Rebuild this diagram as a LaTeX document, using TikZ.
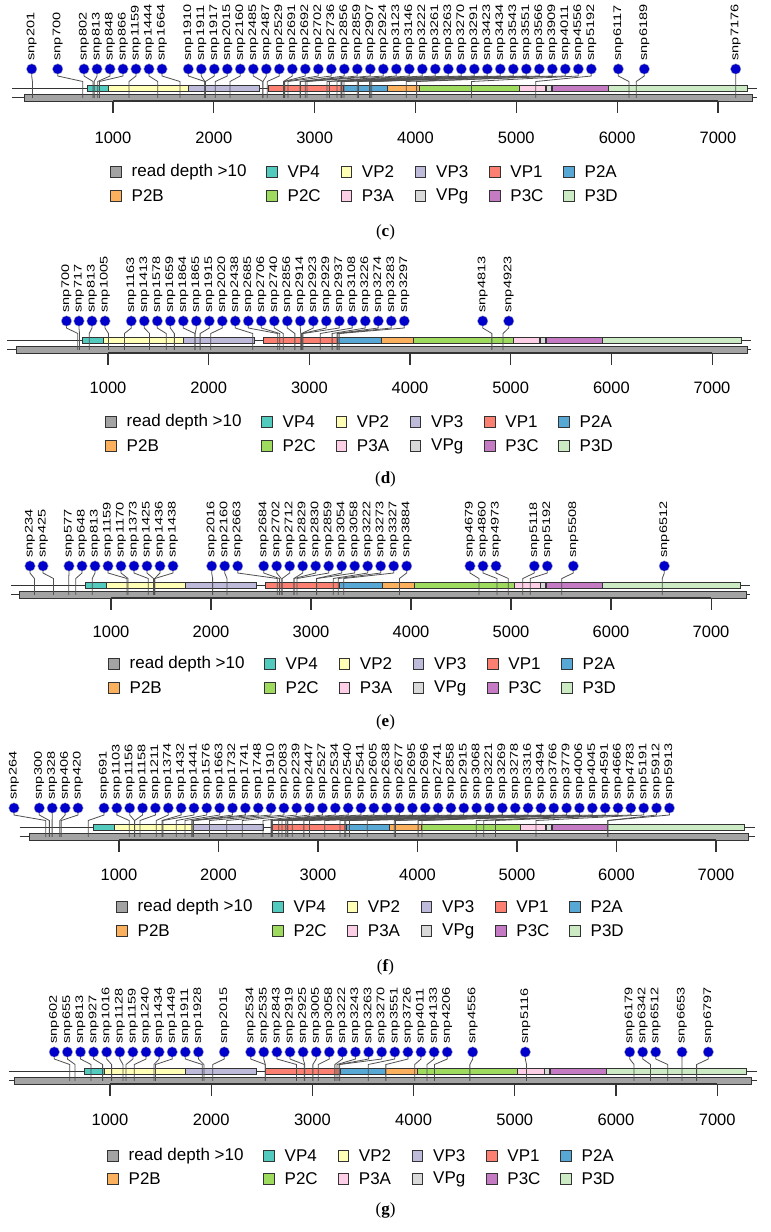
\documentclass[tikz,border=0pt]{standalone}
\usepackage{fontspec}
\usepackage{graphicx}
\setmainfont{Liberation Sans}
\newfontfamily\capfont{Liberation Serif}
\usetikzlibrary{calc}
\definecolor{cRD}{HTML}{A3A3A3}
\definecolor{cVP4}{HTML}{52CBBE}
\definecolor{cVP2}{HTML}{FFFFB5}
\definecolor{cVP3}{HTML}{BEBADA}
\definecolor{cVP1}{HTML}{FB8072}
\definecolor{cP2A}{HTML}{58A8D6}
\definecolor{cP2B}{HTML}{FBB05E}
\definecolor{cP2C}{HTML}{9DDA5D}
\definecolor{cP3A}{HTML}{FCCFE6}
\definecolor{cVPg}{HTML}{D9D9D9}
\definecolor{cP3C}{HTML}{C47BC4}
\definecolor{cP3D}{HTML}{CCEBC5}
\definecolor{dotblue}{HTML}{0000CC}
\definecolor{stemgray}{HTML}{505050}
\definecolor{boxline}{HTML}{333333}
\tikzset{
  dot/.style={circle, fill=dotblue, draw=gray!60, line width=0.4pt, inner sep=0pt, minimum size=10.5pt},
  stem/.style={draw=stemgray, line width=0.8pt},
  snplab/.style={rotate=90, anchor=west, inner sep=0pt, font=\fontsize{11}{13}\selectfont},
  gene/.style={draw=boxline, line width=0.9pt},
  trackline/.style={draw=boxline, line width=0.9pt},
  axtick/.style={draw=boxline, line width=1.1pt},
  ticklab/.style={inner sep=0pt, font=\fontsize{16.5}{19}\selectfont},
  legbox/.style={draw=boxline, line width=0.9pt, minimum width=10.5pt, minimum height=11pt, inner sep=0pt},
  legtxt/.style={anchor=west, inner sep=0pt, font=\fontsize{17}{20}\selectfont},
  captxt/.style={inner sep=0pt, font=\capfont\fontsize{17}{20}\selectfont}
}
\newcommand\SnpText[1]{\scalebox{1.32}[1]{#1}}
\newcommand\lolgroup[3]{%
  \foreach \lab [count=\k from 0] in {#3} {%
    \pgfmathsetmacro\cx{#1+#2*\k}%
    \pgfmathsetmacro\px{\PA+\PB*\lab}%
    \node[dot] (\PID-\lab) at (\cx,\CY) {};
    \coordinate (\PID-\lab-b1) at (\cx,\CY+7);
    \coordinate (\PID-\lab-b2) at (\px,\CY+12.5);
    \coordinate (\PID-\lab-end) at (\px,\GY);
    \draw[stem] (\PID-\lab.south) -- (\PID-\lab-b1) -- (\PID-\lab-b2) -- (\PID-\lab-end);
    \node[snplab] (\PID-\lab-t) at ([yshift=3pt]\PID-\lab.north) {\SnpText{snp\lab}};
  }}
\newcommand\drawtrack{%
  \pgfmathsetmacro\TY{\CY+19.5}%
  \pgfmathsetmacro\GY{\CY+28.8}%
  \draw[trackline] (\PA,\TY) -- (\PA+\PB*7390,\TY);
  \draw[trackline] (\PA,\GY) -- (\PA+\PB*7390,\GY);
  \draw[gene, fill=cRD] (\PA+\PB*\GS,\GY-3.2) rectangle (\PA+\PB*\GE,\GY+3.2);
  \foreach \s/\e/\col in {745/950/cVP4, 950/1745/cVP2, 1745/2450/cVP3, 2540/3281/cVP1, 3281/3718/cP2A, 3718/4036/cP2B, 4036/5030/cP2C, 5030/5290/cP3A, 5297/5347/cVPg, 5355/5910/cP3C, 5910/7290/cP3D}
    {\draw[gene, fill=\col] (\PA+\PB*\s,\TY-3) rectangle (\PA+\PB*\e,\TY+3);}
  \draw[axtick] (\PA+\PB*1000,\GY+3.2) -- (\PA+\PB*7000,\GY+3.2);
  \foreach \t in {1000,2000,...,7000} {
    \draw[axtick] (\PA+\PB*\t,\GY+3.2) -- (\PA+\PB*\t,\GY+15.5);
    \node[ticklab] (\PID-tl\t) at (\PA+\PB*\t,\TL) {\t};
  }}
\newcommand\drawlegend{%
  \pgfmathsetmacro\LX{\PA+\PB*1000+3}%
  \foreach \dx/\r/\col/\txt in {0/\LA/cRD/read depth >10, 156/\LA/cVP4/VP4, 230.25/\LA/cVP2/VP2, 304.5/\LA/cVP3/VP3, 378.75/\LA/cVP1/VP1, 453/\LA/cP2A/P2A, 0/\LB/cP2B/P2B, 156/\LB/cP2C/P2C, 230.25/\LB/cP3A/P3A, 304.5/\LB/cVPg/VPg, 378.75/\LB/cP3C/P3C, 453/\LB/cP3D/P3D} {
    \node[legbox, fill=\col] (\PID-lg-\col) at (\LX+\dx,\r) {};
    \node[legtxt] (\PID-lt-\col) at (\LX+\dx+15.5,\r) {\txt};
  }}
\begin{document}
\begin{tikzpicture}[x=1pt,y=-1pt]
\fill[white] (0,0) rectangle (771,1232);
\useasboundingbox (0,0) rectangle (771,1232);
% ---------------- panel (c)
\def\PID{c}\def\PA{12.17}\def\PB{0.10083}\def\CY{69}
\def\GS{117}\def\GE{7337}\def\TL{138}\def\LA{172}\def\LB{196}\def\CP{232}
\drawtrack
\lolgroup{31.7}{13}{201}
\lolgroup{57.7}{13}{700}
\lolgroup{84}{13}{802,813,848,866,1159,1444,1664}
\lolgroup{188.3}{13}{1910,1911,1917,2015,2160,2485,2487,2529,2691,2692,2702,2736,2856,2859,2907,2924,3123,3146,3222,3261,3263,3270,3291,3423,3434,3543,3551,3566,3909,4011,4556,5192}
\lolgroup{618.3}{13}{6117}
\lolgroup{644.3}{13}{6189}
\lolgroup{735.7}{13}{7176}
\drawlegend
\node[captxt] (c-cap) at (385.5,\CP) {(\textbf{c})};
% ---------------- panel (d)
\def\PID{d}\def\PA{7.33}\def\PB{0.10067}\def\CY{321}
\def\GS{86}\def\GE{7347}\def\TL{388}\def\LA{422}\def\LB{446}\def\CP{479}
\drawtrack
\lolgroup{66.5}{13}{700}
\lolgroup{79}{13}{717,813,1005}
\lolgroup{131.3}{13}{1163,1413,1578,1659,1864,1865,1915,2020,2438,2685,2706,2740,2856,2914,2923,2929,2937,3108,3226,3274,3283,3297}
\lolgroup{482.7}{26}{4813,4923}
\drawlegend
\node[captxt] (d-cap) at (385.5,\CP) {(\textbf{d})};
% ---------------- panel (e)
\def\PID{e}\def\PA{11}\def\PB{0.1}\def\CY{566}
\def\GS{80}\def\GE{7350}\def\TL{632}\def\LA{664}\def\LB{688}\def\CP{722}
\drawtrack
\lolgroup{30}{13}{234,425}
\lolgroup{69}{13}{577,648,813,1159,1170,1373,1425,1436,1438}
\lolgroup{211.7}{13}{2016,2160,2663}
\lolgroup{263.7}{13}{2684,2702,2712,2829,2830,2859,3054,3058,3222,3273,3327,3884}
\lolgroup{470}{13}{4679,4860,4973}
\lolgroup{534.3}{13}{5118,5192}
\lolgroup{573.3}{13}{5508}
\lolgroup{664.3}{13}{6512}
\drawlegend
\node[captxt] (e-cap) at (385.5,\CP) {(\textbf{e})};
% ---------------- panel (f)
\def\PID{f}\def\PA{19.5}\def\PB{0.0995}\def\CY{808}
\def\GS{95}\def\GE{7322}\def\TL{875}\def\LA{907}\def\LB{931}\def\CP{967}
\drawtrack
\lolgroup{14}{13}{264}
\lolgroup{39.3}{12.9}{300,328,406,420}
\lolgroup{104}{12.85}{691,1103,1156,1158,1211,1374,1432,1441,1576,1663,1732,1741,1748,1910,2083,2239,2447,2527,2534,2540,2541,2605,2638,2677,2695,2696,2741,2858,2915,3068,3221,3269,3278,3316,3494,3766,3779,4006,4045,4591,4666,4783,5191,5912,5913}
\drawlegend
\node[captxt] (f-cap) at (385.5,\CP) {(\textbf{f})};
% ---------------- panel (g)
\def\PID{g}\def\PA{8.8}\def\PB{0.1012}\def\CY{1052}
\def\GS{51}\def\GE{7334}\def\TL{1120}\def\LA{1156}\def\LB{1179}\def\CP{1210}
\drawtrack
\lolgroup{54.3}{13.1}{602,655,813,927,1016,1128,1159,1240,1434,1449,1911,1928}
\lolgroup{224.3}{13}{2015}
\lolgroup{250.7}{13.1}{2534,2535,2843,2919,2925,3005,3058,3222,3243,3263,3270,3551,3726,4011,4133,4206}
\lolgroup{472.7}{13}{4556}
\lolgroup{525.3}{13}{5116}
\lolgroup{629.7}{13}{6179,6342,6512}
\lolgroup{682}{13}{6653}
\lolgroup{708.3}{13}{6797}
\drawlegend
\node[captxt] (g-cap) at (385.5,\CP) {(\textbf{g})};
\end{tikzpicture}
\end{document}
